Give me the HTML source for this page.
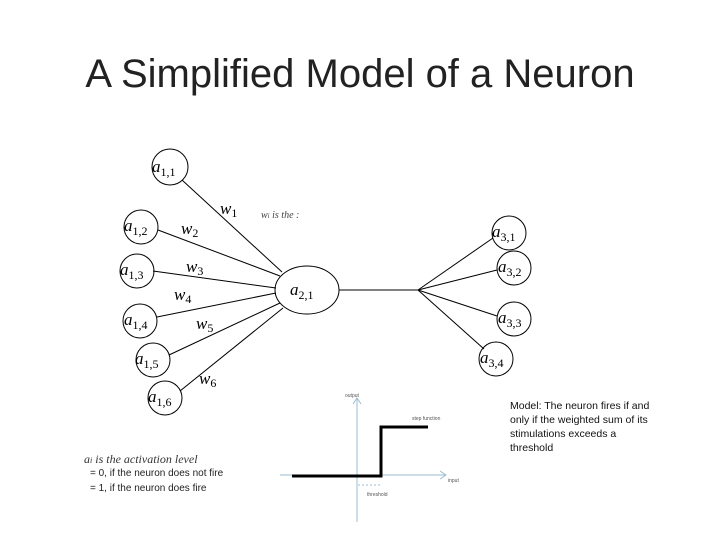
<!DOCTYPE html>
<html><head><meta charset="utf-8"><style>
html,body{margin:0;padding:0;background:#fff;}
body{width:720px;height:540px;overflow:hidden;position:relative;font-family:"Liberation Sans",sans-serif;}
.t{position:absolute;left:0;width:720px;top:52px;text-align:center;font-size:40px;color:#222;font-family:"Liberation Sans",sans-serif;font-weight:300;}
</style></head><body>
<div class="t">A Simplified Model of a Neuron</div>
<svg width="720" height="540" style="position:absolute;left:0;top:0" font-family="Liberation Serif, serif">
<g stroke="#000" stroke-width="1" fill="none">
<line x1="182" y1="180" x2="282" y2="272"/>
<line x1="158" y1="230" x2="280" y2="276"/>
<line x1="153" y1="271" x2="276" y2="288"/>
<line x1="157" y1="317" x2="276" y2="293"/>
<line x1="169" y1="355" x2="280" y2="303"/>
<line x1="180" y1="391" x2="283" y2="308"/>
<line x1="339" y1="290" x2="418" y2="290"/>
<line x1="418" y1="290" x2="493" y2="238"/>
<line x1="418" y1="290" x2="497" y2="270"/>
<line x1="418" y1="290" x2="497" y2="316"/>
<line x1="418" y1="290" x2="484" y2="349"/>
<circle cx="170" cy="167" r="18"/>
<circle cx="141" cy="227" r="17"/>
<circle cx="137" cy="271" r="17"/>
<circle cx="140" cy="321" r="17"/>
<circle cx="153" cy="360" r="17"/>
<circle cx="165" cy="398" r="17"/>
<ellipse cx="307" cy="290" rx="32" ry="24"/>
<circle cx="509" cy="233" r="17"/>
<circle cx="514" cy="268" r="17"/>
<circle cx="514" cy="319" r="17"/>
<circle cx="496" cy="359" r="17"/>
</g>
<g fill="#000" font-size="17" font-style="italic">
<text x="152" y="172">a<tspan font-size="12" font-style="normal" dy="4">1,1</tspan></text>
<text x="124" y="231">a<tspan font-size="12" font-style="normal" dy="4">1,2</tspan></text>
<text x="120" y="275">a<tspan font-size="12" font-style="normal" dy="4">1,3</tspan></text>
<text x="124" y="325">a<tspan font-size="12" font-style="normal" dy="4">1,4</tspan></text>
<text x="135" y="364">a<tspan font-size="12" font-style="normal" dy="4">1,5</tspan></text>
<text x="148" y="402">a<tspan font-size="12" font-style="normal" dy="4">1,6</tspan></text>
<text x="290" y="295">a<tspan font-size="12" font-style="normal" dy="4">2,1</tspan></text>
<text x="492" y="237">a<tspan font-size="12" font-style="normal" dy="4">3,1</tspan></text>
<text x="498" y="272">a<tspan font-size="12" font-style="normal" dy="4">3,2</tspan></text>
<text x="498" y="323">a<tspan font-size="12" font-style="normal" dy="4">3,3</tspan></text>
<text x="480" y="363">a<tspan font-size="12" font-style="normal" dy="4">3,4</tspan></text>
<text x="220" y="214">w<tspan font-size="12" font-style="normal" dy="3">1</tspan></text>
<text x="181" y="234">w<tspan font-size="12" font-style="normal" dy="3">2</tspan></text>
<text x="186" y="272">w<tspan font-size="12" font-style="normal" dy="3">3</tspan></text>
<text x="174" y="300">w<tspan font-size="12" font-style="normal" dy="3">4</tspan></text>
<text x="196" y="329">w<tspan font-size="12" font-style="normal" dy="3">5</tspan></text>
<text x="199" y="384">w<tspan font-size="12" font-style="normal" dy="3">6</tspan></text>
<text x="261" y="218" font-size="10" fill="#444">w<tspan font-size="7">i</tspan> is the :</text>
<text x="84" y="463" font-size="12" fill="#333">a<tspan font-size="8">i</tspan> is the activation level</text>
</g>
<g font-family="Liberation Sans, sans-serif" font-size="10" fill="#222" font-style="normal">
<text x="90" y="476">= 0, if the neuron does not fire</text>
<text x="90" y="491">= 1, if the neuron does fire</text>
</g>
<g stroke="#9bbcd0" stroke-width="1" fill="none">
<line x1="357" y1="398" x2="357" y2="522"/>
<polyline points="353,404 357,398 361,404"/>
<line x1="280" y1="475" x2="445" y2="475"/>
<polyline points="440,471 446,475 440,479"/>
<line x1="358" y1="485" x2="380" y2="485" stroke-dasharray="2,2"/>
</g>
<polyline points="292,476 381,476 381,427 428,427" stroke="#000" stroke-width="3" fill="none"/>
<g font-family="Liberation Sans, sans-serif" font-size="5" fill="#555" font-style="normal">
<text x="345" y="397">output</text>
<text x="412" y="420">step function</text>
<text x="448" y="482">input</text>
<text x="367" y="496">threshold</text>
</g>
<g font-family="Liberation Sans, sans-serif" font-size="10.5" fill="#111" font-style="normal">
<text x="510" y="409">Model: The neuron fires if and</text>
<text x="510" y="423">only if the weighted sum of its</text>
<text x="510" y="437">stimulations exceeds a</text>
<text x="510" y="451">threshold</text>
</g>
</svg>
</body></html>
